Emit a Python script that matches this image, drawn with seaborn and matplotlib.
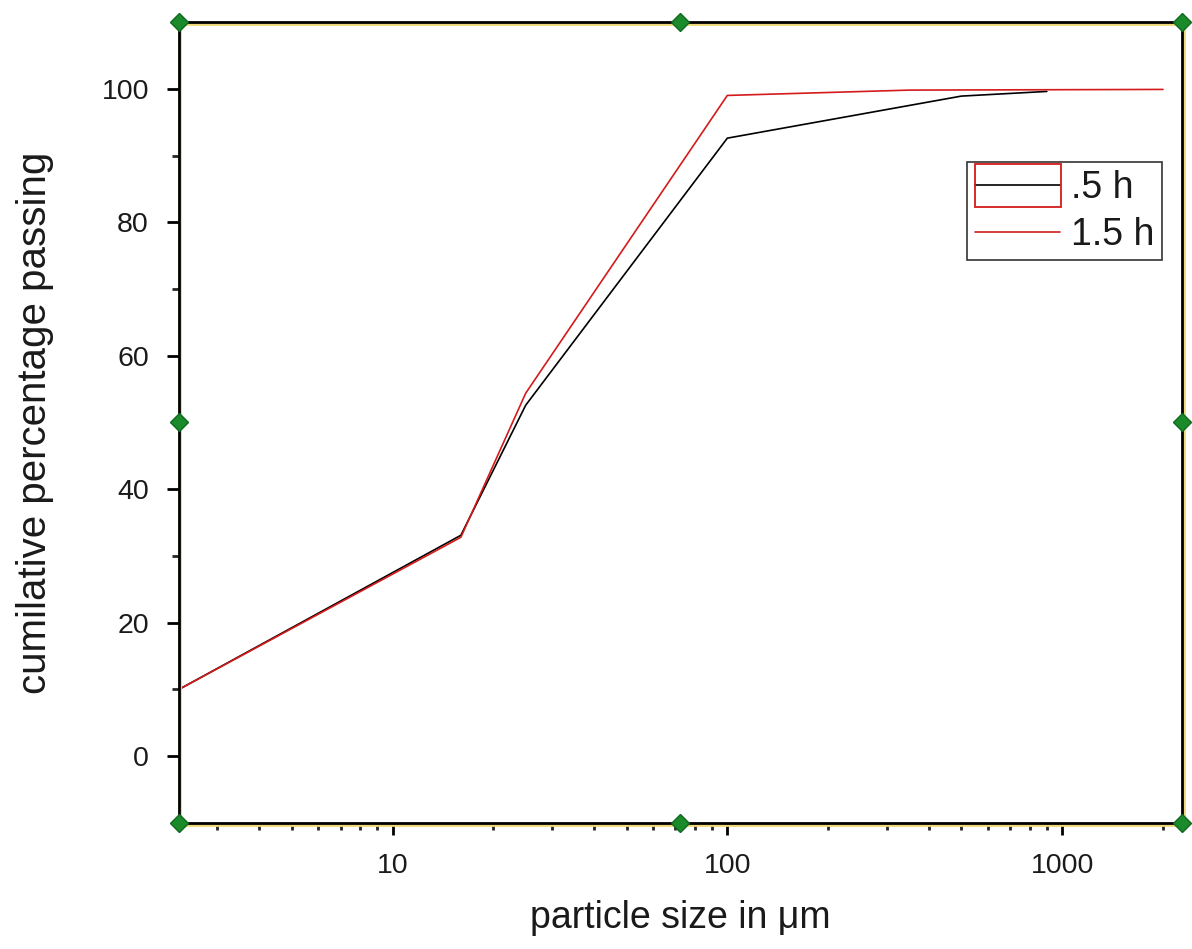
import numpy as np
import pandas as pd
import seaborn as sns
import matplotlib
matplotlib.use("Agg")
import matplotlib.pyplot as plt
from matplotlib import ticker, patheffects
from matplotlib.patches import Rectangle

# ---- data ----
size_05h = [2.3, 16, 25, 100, 500, 900]
pass_05h = [10.0, 33.1, 52.6, 92.6, 98.9, 99.6]
size_15h = [2.3, 16, 25, 100, 350, 2000]
pass_15h = [10.0, 32.8, 54.4, 99.0, 99.8, 99.9]
series_names = [".5 h", "1.5 h"]
series_colors = ["#000000", "#d41a1a"]
x_ticks = [10, 100, 1000]
y_ticks = [0, 20, 40, 60, 80, 100]

df = pd.concat([
    pd.DataFrame({"size": size_05h, "pass": pass_05h, "series": series_names[0]}),
    pd.DataFrame({"size": size_15h, "pass": pass_15h, "series": series_names[1]}),
], ignore_index=True)

sns.set_theme(style="white")
plt.rcParams["font.family"] = ["Liberation Sans", "DejaVu Sans"]

fig = plt.figure(figsize=(11.92, 9.49), dpi=100)
ax = fig.add_axes([0.150, 0.1328, 0.8416, 0.844])

sns.lineplot(data=df, x="size", y="pass", hue="series", hue_order=series_names,
             palette=series_colors, estimator=None, sort=False, linewidth=1.2,
             ax=ax, legend=False)

ax.set_xscale("log")
ax.set_xlim(2.3, 2280)
ax.set_ylim(-10, 110)
ax.xaxis.set_major_locator(ticker.FixedLocator(x_ticks))
ax.xaxis.set_major_formatter(ticker.FixedFormatter([str(v) for v in x_ticks]))
ax.xaxis.set_minor_locator(ticker.LogLocator(base=10, subs=np.arange(2, 10)))
ax.xaxis.set_minor_formatter(ticker.NullFormatter())
ax.set_yticks(y_ticks)
ax.yaxis.set_minor_locator(ticker.MultipleLocator(10))

ax.tick_params(axis="both", which="major", direction="out", length=8.5, width=2,
               labelsize=20.5, colors="black", labelcolor="#1a1a1a",
               bottom=True, left=True, top=False, right=False, pad=13)
ax.tick_params(axis="both", which="minor", direction="out", length=5, width=2,
               bottom=True, left=True, top=False, right=False)

ax.set_xlabel("particle size in \u03bcm", fontsize=27, color="#1a1a1a", labelpad=15)
ax.set_ylabel("cumilative percentage passing", fontsize=29, color="#1a1a1a", labelpad=34)

for sp in ax.spines.values():
    sp.set_visible(True)
    sp.set_color("black")
    sp.set_linewidth(2)
    sp.set_path_effects([patheffects.Stroke(offset=(1.2, -1.2), linewidth=2,
                                            foreground="#f0d878"),
                         patheffects.Normal()])

# legend
handles = [plt.Line2D([], [], color=c, lw=1.2) for c in series_colors]
leg = ax.legend(handles, series_names, loc="upper right",
                bbox_to_anchor=(0.980, 0.825), fontsize=27, frameon=True,
                fancybox=False, edgecolor="black", handlelength=2.27,
                handletextpad=0.3, borderpad=0.2, labelspacing=0.3,
                borderaxespad=0)
leg.get_frame().set_linewidth(1.2)
for t in leg.get_texts():
    t.set_color("#1a1a1a")

# selection highlight around first legend entry
fig.canvas.draw()
r = fig.canvas.get_renderer()
hb = leg.legend_handles[0].get_window_extent(r)
fb = leg.get_frame().get_window_extent(r)
yc = 0.5 * (hb.y0 + hb.y1)
inv = fig.transFigure.inverted()
(x0, y0) = inv.transform((hb.x0, yc - 22))
(x1, y1) = inv.transform((hb.x1 + 1, fb.y1 - 1.5))
fig.add_artist(Rectangle((x0, y0), x1 - x0, y1 - y0, transform=fig.transFigure,
                         fill=False, edgecolor="#d41a1a", lw=1.3))

# selection handles (green diamonds) at corners and mid-points
hx = [0, 0.5, 1, 0, 1, 0, 0.5, 1]
hy = [1, 1, 1, 0.5, 0.5, 0, 0, 0]
ax.plot(hx, hy, linestyle="none", marker="D", markersize=9.5, color="#1a8a2a",
        markeredgecolor="#0f6a1f", transform=ax.transAxes, clip_on=False, zorder=10)

fig.savefig("out.png", dpi=100, facecolor="white")
